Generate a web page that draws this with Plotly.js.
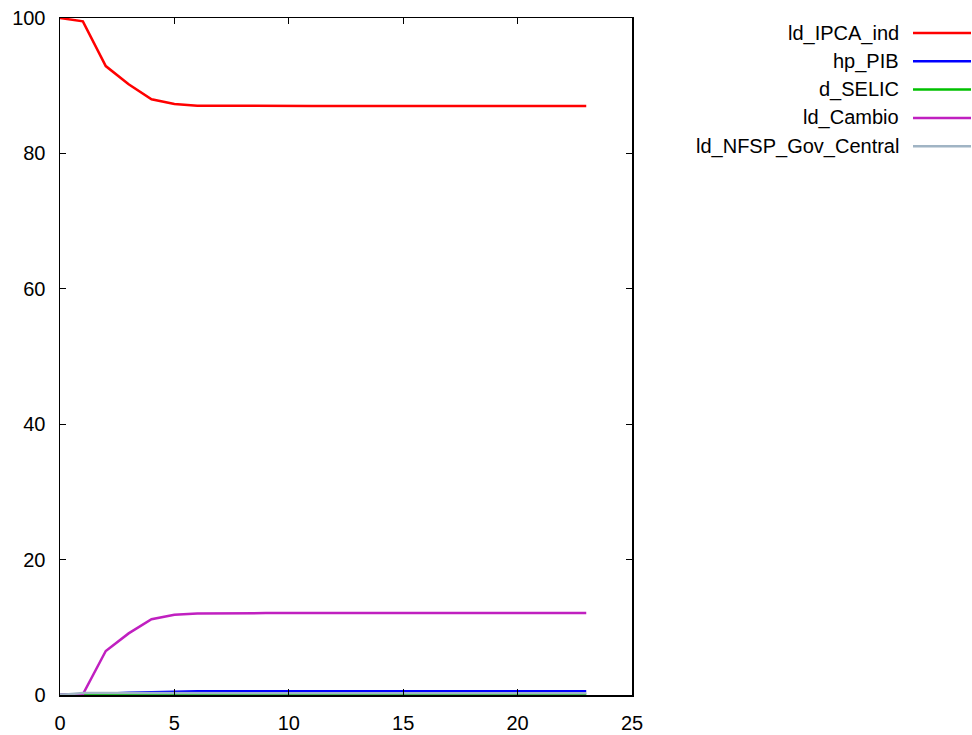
<!DOCTYPE html>
<html>
<head>
<meta charset="utf-8">
<script src="https://cdn.plot.ly/plotly-3.0.1.min.js"></script>
<style>html,body{margin:0;padding:0;background:#fff;}#chart{width:972px;height:735px;}</style>
</head>
<body>
<div id="chart"></div>
<script>
const periods = [0,1,2,3,4,5,6,7,8,9,10,11,12,13,14,15,16,17,18,19,20,21,22,23];
const seriesNames = ["ld_IPCA_ind","hp_PIB","d_SELIC","ld_Cambio","ld_NFSP_Gov_Central"];
const seriesColors = ["#ff0000","#0000ff","#00c000","#c020c0","#a0b4c4"];
const ld_IPCA_ind = [100,99.5,92.9,90.2,88.0,87.3,87.05,87.02,87.0,87.0,87.0,87.0,87.0,87.0,87.0,87.0,87.0,87.0,87.0,87.0,87.0,87.0,87.0,87.0];
const hp_PIB = [0,0.05,0.2,0.35,0.45,0.5,0.55,0.55,0.55,0.55,0.55,0.55,0.55,0.55,0.55,0.55,0.55,0.55,0.55,0.55,0.55,0.55,0.55,0.55];
const d_SELIC = [0,0.05,0.08,0.1,0.1,0.1,0.1,0.1,0.1,0.1,0.1,0.1,0.1,0.1,0.1,0.1,0.1,0.1,0.1,0.1,0.1,0.1,0.1,0.1];
const ld_Cambio = [0,0.1,6.5,9.1,11.2,11.85,12.05,12.1,12.1,12.1,12.1,12.1,12.1,12.1,12.1,12.1,12.1,12.1,12.1,12.1,12.1,12.1,12.1,12.1];
const ld_NFSP_Gov_Central = [0,0.3,0.3,0.28,0.27,0.26,0.25,0.25,0.25,0.25,0.25,0.25,0.25,0.25,0.25,0.25,0.25,0.25,0.25,0.25,0.25,0.25,0.25,0.25];
const xTicks = [0,5,10,15,20,25];
const yTicks = [0,20,40,60,80,100];

const allSeries = [ld_IPCA_ind, hp_PIB, d_SELIC, ld_Cambio, ld_NFSP_Gov_Central];
const traces = allSeries.map((vals, i) => ({
  x: periods, y: vals, type: 'scatter', mode: 'lines', name: seriesNames[i],
  line: {color: seriesColors[i], width: 2.5}, showlegend: false, hoverinfo: 'skip'
}));

const font = {family: '"Liberation Sans", Arial, sans-serif', size: 20, color: '#000'};
const W = 972, H = 735, mL = 60, mR = 340, mT = 18, mB = 40;
const pw = W - mL - mR, ph = H - mT - mB;
const px2x = px => (px - mL) / pw;
const py2y = py => 1 - (py - mT) / ph;
const legTop = 33, legStep = 28.3;
const annotations = [];
const shapes = [];
seriesNames.forEach((n, i) => {
  const py = legTop + i * legStep;
  annotations.push({
    xref: 'paper', yref: 'paper', x: px2x(901), y: py2y(py), text: n, showarrow: false,
    xanchor: 'right', yanchor: 'middle', font: font
  });
  shapes.push({type: 'line', xref: 'paper', yref: 'paper',
    x0: px2x(913), x1: px2x(971), y0: py2y(py), y1: py2y(py),
    line: {color: seriesColors[i], width: 2.5}});
});

const axisCommon = {
  showgrid: false, zeroline: false, showline: true, linecolor: '#000', linewidth: 1.5,
  mirror: 'allticks', ticks: 'inside', ticklen: 6, tickcolor: '#000', tickwidth: 1,
  fixedrange: true, tickfont: font
};
const layout = {
  width: W, height: H,
  margin: {l: mL, r: mR, t: mT, b: mB, pad: 0},
  paper_bgcolor: '#fff', plot_bgcolor: '#fff',
  font: font,
  showlegend: false,
  xaxis: Object.assign({}, axisCommon, {
    range: [0, 25], tickvals: xTicks, ticktext: xTicks.map(String), ticklabelstandoff: 9
  }),
  yaxis: Object.assign({}, axisCommon, {
    range: [0, 100], tickvals: yTicks, ticktext: yTicks.map(String), ticklabelstandoff: 9
  }),
  annotations: annotations,
  shapes: shapes
};
Plotly.newPlot('chart', traces, layout, {displayModeBar: false, staticPlot: true});
</script>
</body>
</html>
